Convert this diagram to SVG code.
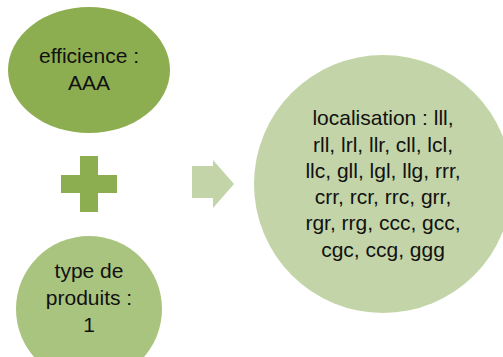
<svg xmlns="http://www.w3.org/2000/svg" width="503" height="357" viewBox="0 0 503 357">
<style>
text{font-family:"Liberation Sans",Arial,sans-serif;font-size:21px;fill:#111;text-anchor:middle}
</style>
<rect width="503" height="357" fill="#fff"/>
<g id="node-efficience">
<ellipse cx="89" cy="70" rx="81" ry="63" fill="#8DAE50"/>
<text x="89" y="63">efficience :</text>
<text x="89" y="90">AAA</text>
</g>
<g id="node-plus">
<path d="M80,156H98V175H117V193H98V212H80V193H61V175H80Z" fill="#8DAE50"/>
</g>
<g id="node-type">
<ellipse cx="89" cy="309" rx="73" ry="73" fill="#A9C47F"/>
<text x="89" y="278">type de</text>
<text x="89" y="305">produits :</text>
<text x="89" y="332">1</text>
</g>
<g id="connectors">
<path d="M192,166H213V160L234,184L213,208V198H192Z" fill="#C3D5A8"/>
</g>
<g id="node-localisation">
<circle cx="383" cy="184" r="129" fill="#C3D5A8"/>
<text x="383" y="125">localisation : lll,</text>
<text x="383" y="152">rll, lrl, llr, cll, lcl,</text>
<text x="383" y="178">llc, gll, lgl, llg, rrr,</text>
<text x="383" y="204">crr, rcr, rrc, grr,</text>
<text x="383" y="230">rgr, rrg, ccc, gcc,</text>
<text x="383" y="257">cgc, ccg, ggg</text>
</g>
</svg>
